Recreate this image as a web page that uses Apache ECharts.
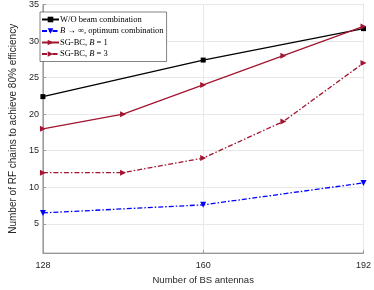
<!DOCTYPE html>
<html>
<head>
<meta charset="utf-8">
<script src="https://cdn.jsdelivr.net/npm/echarts@6/dist/echarts.min.js"></script>
<style>html,body{margin:0;padding:0;background:#fff;}#c{width:374px;height:290px;}</style>
</head>
<body>
<div id="c"></div>
<script>
// Data
var xTicks = [128, 160, 192];
var xWO = [128, 160, 192];
var woBeam = [22.4, 27.4, 31.7];
var xInf = [128, 160, 192];
var bInf = [6.5, 7.6, 10.6];
var xSG = [128, 144, 160, 176, 192];
var sgB1 = [18, 20, 24, 28, 32];
var sgB3 = [12, 12, 14, 19, 27];
var seriesNames = ['W/O beam combination', 'B → ∞, optimum combination', 'SG-BC, B = 1', 'SG-BC, B = 3'];

function pairs(xs, ys){ return xs.map(function(x,i){ return [x, ys[i]]; }); }

var red = '#a2142f';
var chart = echarts.init(document.getElementById('c'));
var axisCol = '#262626';
chart.setOption({
  animation: false,
  grid: {left: 26, right: 9, top: 4, bottom: 29, show: true, borderColor: '#9a9a9a', borderWidth: 1},
  xAxis: {
    type: 'value', min: 128, max: 192, interval: 32,
    name: 'Number of BS antennas', nameLocation: 'middle', nameGap: 18,
    nameTextStyle: {fontFamily: 'Liberation Sans', fontSize: 9.5, color: axisCol},
    axisLine: {show: true, lineStyle: {color: '#9a9a9a', width: 1}},
    axisTick: {show: true, inside: true, length: 3, lineStyle: {color: '#9a9a9a'}},
    axisLabel: {fontFamily: 'Liberation Sans', fontSize: 9, color: axisCol, margin: 8},
    splitLine: {show: true, lineStyle: {color: '#e8e8e8', width: 1}}
  },
  yAxis: {
    type: 'value', min: 1, max: 35, splitNumber: 7,
    name: 'Number of RF chains to achieve 80% efficiency', nameLocation: 'middle', nameGap: 19,
    nameTextStyle: {fontFamily: 'Liberation Sans', fontSize: 10, color: axisCol},
    axisLine: {show: true, lineStyle: {color: '#9a9a9a', width: 1}},
    axisTick: {show: true, inside: true, length: 3, lineStyle: {color: '#9a9a9a'}},
    axisLabel: {fontFamily: 'Liberation Sans', fontSize: 9, color: axisCol, margin: 4, showMinLabel: false},
    splitLine: {show: true, lineStyle: {color: '#e8e8e8', width: 1}}
  },
  legend: {
    orient: 'vertical', left: 40, top: 12,
    backgroundColor: '#fff', borderColor: '#333', borderWidth: 0.6, borderRadius: 0,
    padding: [3, 3, 3, 1], itemGap: 2.5, itemWidth: 17, itemHeight: 7,
    textStyle: {fontFamily: 'Liberation Serif', fontSize: 8.5, color: '#000', padding: [0,0,0,-4],
      rich: {i: {fontFamily: 'Liberation Serif', fontStyle: 'italic', fontSize: 8.5, color: '#000'},
             n: {fontFamily: 'Liberation Serif', fontSize: 8.5, color: '#000'}}},
    formatter: function(name){
      if (name === seriesNames[1]) return '{i|B} {n|→ ∞, optimum combination}';
      if (name === seriesNames[2]) return '{n|SG-BC,} {i|B} {n|= 1}';
      if (name === seriesNames[3]) return '{n|SG-BC,} {i|B} {n|= 3}';
      return name;
    },
    data: seriesNames
  },
  series: [
    {name: seriesNames[0], type: 'line', data: pairs(xWO, woBeam), symbol: 'rect', symbolSize: 5,
      lineStyle: {color: '#000', width: 1.2}, itemStyle: {color: '#000'}},
    {name: seriesNames[1], type: 'line', data: pairs(xInf, bInf), symbol: 'triangle', symbolRotate: 180, symbolSize: 6,
      lineStyle: {color: '#0000ff', width: 1.3, type: [5, 2, 1.5, 2]}, itemStyle: {color: '#0000ff'}},
    {name: seriesNames[2], type: 'line', data: pairs(xSG, sgB1), symbol: 'triangle', symbolRotate: -90, symbolSize: 6,
      lineStyle: {color: red, width: 1.2}, itemStyle: {color: red}},
    {name: seriesNames[3], type: 'line', data: pairs(xSG, sgB3), symbol: 'triangle', symbolRotate: -90, symbolSize: 6,
      lineStyle: {color: red, width: 1.3, type: [5, 2, 1.5, 2]}, itemStyle: {color: red}}
  ]
});
</script>
</body>
</html>
